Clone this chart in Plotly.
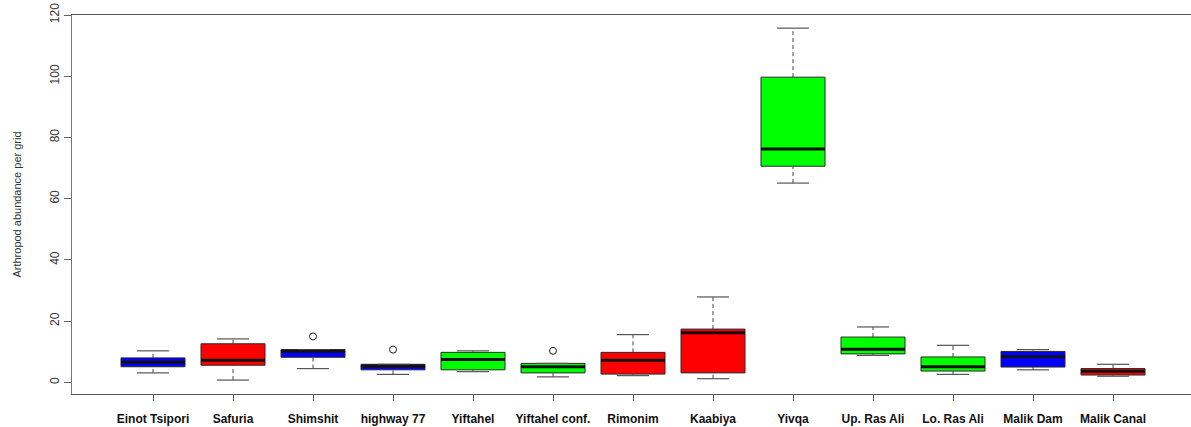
import plotly.graph_objects as go

# Arthropod abundance per grid at each site (box statistics)
sites = ["Einot Tsipori", "Safuria", "Shimshit", "highway 77", "Yiftahel",
         "Yiftahel conf.", "Rimonim", "Kaabiya", "Yivqa", "Up. Ras Ali",
         "Lo. Ras Ali", "Malik Dam", "Malik Canal"]
lower_whisker = [3.1, 0.75, 4.5, 2.6, 3.5, 1.8, 2.2, 1.2, 65.1, 8.8, 2.6, 4.1, 2.0]
q1 = [5.1, 5.6, 8.2, 4.1, 4.1, 3.1, 2.7, 3.1, 70.6, 9.3, 3.7, 5.0, 2.4]
median = [6.6, 7.2, 10.2, 5.3, 7.5, 5.1, 7.2, 16.2, 76.2, 10.8, 5.1, 8.4, 3.6]
q3 = [8.0, 12.6, 10.7, 5.9, 9.8, 6.2, 9.8, 17.4, 99.7, 14.8, 8.3, 10.1, 4.5]
upper_whisker = [10.3, 14.2, 10.7, 5.9, 10.3, 6.2, 15.6, 27.9, 115.7, 18.1, 12.1, 10.7, 5.9]
outlier_sites = ["Shimshit", "highway 77", "Yiftahel conf."]
outlier_values = [15.0, 10.7, 10.3]

BLUE, RED, GREEN = "#0000ff", "#ff0000", "#00ff00"
fills = [BLUE, RED, BLUE, BLUE, GREEN, GREEN, RED, RED, GREEN, GREEN, GREEN, BLUE, RED]

BOX_W = 0.8
CAP_HALF = BOX_W / 4
pos = list(range(1, len(sites) + 1))

fig = go.Figure()

# dashed whiskers and solid caps
wx, wy, cx, cy = [], [], [], []
for p, lo, a, b, hi in zip(pos, lower_whisker, q1, q3, upper_whisker):
    if hi > b:
        wx += [p, p, None]
        wy += [b, hi, None]
    if lo < a:
        wx += [p, p, None]
        wy += [lo, a, None]
    cx += [p - CAP_HALF, p + CAP_HALF, None, p - CAP_HALF, p + CAP_HALF, None]
    cy += [hi, hi, None, lo, lo, None]

fig.add_trace(go.Scatter(x=wx, y=wy, mode="lines",
                         line=dict(color="#444444", width=1, dash="4px,3px"),
                         hoverinfo="skip", showlegend=False))
fig.add_trace(go.Scatter(x=cx, y=cy, mode="lines",
                         line=dict(color="#555555", width=1.2),
                         hoverinfo="skip", showlegend=False))

# boxes
for p, a, m, b, c in zip(pos, q1, median, q3, fills):
    fig.add_trace(go.Box(
        x=[p], q1=[a], median=[m], q3=[b], lowerfence=[a], upperfence=[b],
        width=BOX_W, fillcolor=c, line=dict(color="#2a2a2a", width=1),
        whiskerwidth=0, hoverinfo="skip", showlegend=False, boxpoints=False,
    ))

# thick median bars
mx, my = [], []
for p, m in zip(pos, median):
    mx += [p - BOX_W / 2, p + BOX_W / 2, None]
    my += [m, m, None]
fig.add_trace(go.Scatter(x=mx, y=my, mode="lines",
                         line=dict(color="#111111", width=3),
                         hoverinfo="skip", showlegend=False))

# outliers
ox = [sites.index(s) + 1 for s in outlier_sites]
fig.add_trace(go.Scatter(x=ox, y=outlier_values, mode="markers",
                         marker=dict(symbol="circle-open", size=7,
                                     color="#222222", line=dict(width=1)),
                         hoverinfo="skip", showlegend=False))

fig.update_layout(
    width=1191, height=427,
    margin=dict(l=72, r=0, t=15, b=33),
    paper_bgcolor="white", plot_bgcolor="white",
    font=dict(family="Liberation Sans, Arial, sans-serif", color="#222222"),
    xaxis=dict(
        range=[-0.0125, 13.975], tickmode="array", tickvals=pos, ticktext=sites,
        showgrid=False, zeroline=False, showline=True, mirror=True,
        linecolor="#555555", linewidth=1.2,
        ticks="outside", ticklen=6, tickcolor="#555555", ticklabelstandoff=7,
        tickfont=dict(size=12, color="#111111",
                      family="Liberation Sans, Arial, sans-serif", weight="bold"),
    ),
    yaxis=dict(
        range=[-3.8, 120], tickmode="array", tickvals=[0, 20, 40, 60, 80, 100, 120],
        showgrid=False, zeroline=False, showline=True,
        linecolor="#777777", linewidth=1.2,
        ticks="outside", ticklen=7, tickcolor="#666666", tickangle=-90,
        tickfont=dict(size=12, color="#333333"),
        title=dict(text="Arthropod abundance per grid", standoff=24,
                   font=dict(size=11, color="#333333")),
    ),
)

fig.write_html("out.html")
